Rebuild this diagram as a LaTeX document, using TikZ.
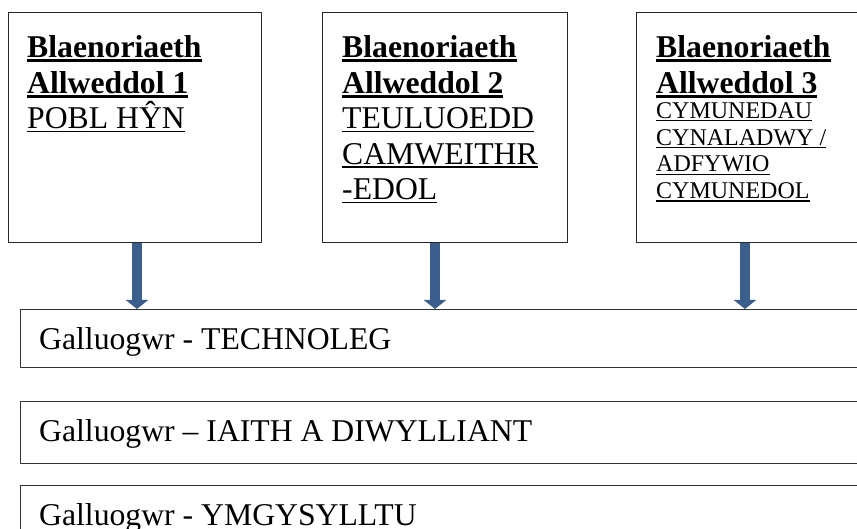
\documentclass[tikz,border=0pt]{standalone}
\usepackage{fontspec}
\setmainfont{Liberation Serif}
\usetikzlibrary{arrows.meta,positioning}
\definecolor{arrowblue}{RGB}{59,94,140}
% underlined text, as in the word processor
\newcommand{\ulbold}[1]{\setbox0\hbox{\bfseries #1}\rlap{\copy0}\rule[-4.6pt]{\wd0}{2.8pt}}
\newcommand{\ulthin}[1]{\setbox0\hbox{#1}\rlap{\copy0}\rule[-3.7pt]{\wd0}{1.4pt}}
\newcommand{\ulsmall}[1]{\setbox0\hbox{\fontsize{24}{26.7}\selectfont #1}\rlap{\copy0}\rule[-3pt]{\wd0}{1.2pt}}
\begin{document}
\begin{tikzpicture}[x=1pt,y=-1pt,line join=round,
    prio/.style={draw=black!85,line width=1.1pt,minimum width=#1,minimum height=230pt,inner sep=0pt,anchor=north west},
    bar/.style={draw=black!80,line width=1.1pt,minimum width=880pt,minimum height=#1,inner sep=0pt,anchor=north west},
    priotext/.style={inner sep=0pt,anchor=north west,align=left,font=\fontsize{31.7}{35.5}\selectfont},
    bartext/.style={inner sep=0pt,anchor=base west,font=\fontsize{31.7}{35.5}\selectfont},
    arrowline/.style={draw=arrowblue,line width=10pt,line cap=butt,-{Triangle[width=22pt,length=9pt]}}]
    \useasboundingbox (0,0) rectangle (857,529);
    \clip (0,0) rectangle (857,529);
    % blaenoriaethau
    \node[prio=253pt] (p1) at (8,12) {};
    \node[prio=245pt] (p2) at (322,12) {};
    \node[prio=250pt] (p3) at (636,12) {};
    \node[priotext] (p1txt) at (27,35.5) {\ulbold{Blaenoriaeth}\\ \ulbold{Allweddol 1}\\ \ulthin{POBL HŶN}};
    \node[priotext] (p2txt) at (342,35.5) {\ulbold{Blaenoriaeth}\\ \ulbold{Allweddol 2}\\ \ulthin{TEULUOEDD}\\ \ulthin{CAMWEITHR}\\ \ulthin{-EDOL}};
    \node[priotext] (p3txt) at (656,35.5) {\ulbold{Blaenoriaeth}\\ \ulbold{Allweddol 3}\\[-10.2pt] \ulsmall{CYMUNEDAU}\\[-8.8pt] \ulsmall{CYNALADWY /}\\[-8.8pt] \ulsmall{ADFYWIO}\\[-8.8pt] \ulsmall{CYMUNEDOL}};
    % galluogwyr
    \node[bar=58pt] (tech) at (20,309) {};
    \node[bar=62pt] (iaith) at (20,401) {};
    \node[bar=62pt] (cyfath) at (20,485) {};
    \node[bartext] (techtxt) at (39,349) {Galluogwr - TECHNOLEG};
    \node[bartext] (iaithtxt) at (39,441) {Galluogwr – IAITH A DIWYLLIANT};
    \node[bartext] (cyfathtxt) at (39,525) {Galluogwr - YMGYSYLLTU};
    % saethau
    \coordinate (a1) at (137,0);
    \coordinate (a2) at (435,0);
    \coordinate (a3) at (745,0);
    \draw[arrowline] (p1.south -| a1) -- (tech.north -| a1);
    \draw[arrowline] (p2.south -| a2) -- (tech.north -| a2);
    \draw[arrowline] (p3.south -| a3) -- (tech.north -| a3);
\end{tikzpicture}
\end{document}
